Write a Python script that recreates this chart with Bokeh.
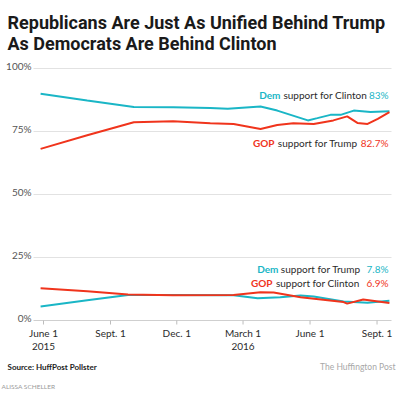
import pandas as pd
from bokeh.plotting import figure
from bokeh.models import Label, Range1d
from bokeh.embed import file_html
from bokeh.resources import INLINE

# ---- data ----
dem_clinton_dates = ["2015-05-28", "2015-07-31", "2015-10-03", "2015-11-26", "2016-01-16",
                     "2016-02-09", "2016-03-25", "2016-04-17", "2016-05-29", "2016-06-11",
                     "2016-06-29", "2016-07-13", "2016-07-31", "2016-08-23", "2016-09-18"]
dem_clinton = [90.0, 87.3, 84.7, 84.6, 84.3, 84.0, 84.9, 83.3, 79.4, 80.3, 81.6, 81.6, 83.3, 82.7, 83.0]

gop_trump_dates = ["2015-05-28", "2015-07-31", "2015-10-03", "2015-11-26", "2016-01-16",
                   "2016-02-17", "2016-03-25", "2016-04-17", "2016-05-09", "2016-06-06",
                   "2016-07-03", "2016-07-22", "2016-08-05", "2016-08-19", "2016-09-02", "2016-09-18"]
gop_trump = [68.1, 73.5, 78.7, 79.1, 78.3, 78.0, 76.0, 77.6, 78.3, 78.0, 79.4, 81.0, 78.4, 78.0, 80.0, 82.7]

dem_trump_dates = ["2015-05-28", "2015-07-31", "2015-09-25", "2015-11-26", "2016-02-17",
                   "2016-03-21", "2016-04-21", "2016-05-19", "2016-06-06", "2016-07-17",
                   "2016-08-19", "2016-09-18"]
dem_trump = [5.6, 8.0, 10.1, 10.1, 10.0, 8.8, 9.2, 9.9, 9.5, 7.5, 7.0, 7.8]

gop_clinton_dates = ["2015-05-28", "2015-07-31", "2015-09-25", "2015-11-26", "2016-02-17",
                     "2016-03-25", "2016-04-12", "2016-05-19", "2016-07-17", "2016-07-22",
                     "2016-08-13", "2016-09-18"]
gop_clinton = [12.8, 11.6, 10.3, 10.0, 10.1, 11.2, 11.1, 9.2, 7.3, 6.7, 8.3, 6.9]

tick_dates = ["2015-06-01", "2015-09-01", "2015-12-01", "2016-03-01", "2016-06-01", "2016-09-01"]
tick_labels = ["June 1\n2015", "Sept. 1", "Dec. 1", "March 1\n2016", "June 1", "Sept. 1"]
y_ticks = [0, 25, 50, 75, 100]
y_tick_labels = ["0%", "25%", "50%", "75%", "100%"]

TEAL = "#1ab6c6"
RED = "#f0341c"
DARK = "#2b2b2b"
W, H = 400, 394


def ms(d):
    return pd.Timestamp(d).value / 1e6


DAY = 86400000.0
x0 = ms("2015-06-01")
PX_DAY = 67.0 / 92.0          # horizontal scale
PX_UNIT = 2.52                # vertical scale (px per percentage point)
X0_PX, Y0_PX = 43.0, 320.0    # where June 1 2015 / 0% fall on the canvas

x_range = Range1d(x0 - X0_PX / PX_DAY * DAY, x0 + (W - X0_PX) / PX_DAY * DAY)
y_range = Range1d((Y0_PX - H) / PX_UNIT, Y0_PX / PX_UNIT)

p = figure(width=W, height=H, x_axis_type="datetime", output_backend="svg",
           toolbar_location=None, x_range=x_range, y_range=y_range,
           x_axis_location=None, y_axis_location=None,
           min_border=0, min_border_left=0, min_border_right=0,
           min_border_top=0, min_border_bottom=0)
p.outline_line_color = None
p.background_fill_color = "white"
p.border_fill_color = "white"
p.grid.visible = False

# plot-area extent (gridlines)
gx0 = x0 - 10 / PX_DAY * DAY
gx1 = x0 + 348 / PX_DAY * DAY
grid_y = y_ticks[1:]
p.segment(x0=[gx0] * len(grid_y), x1=[gx1] * len(grid_y), y0=grid_y, y1=grid_y,
          line_color="#e2e2e2", line_width=1)
# x axis line at 0%
p.segment(x0=[gx0], x1=[gx1], y0=[y_ticks[0]], y1=[y_ticks[0]], line_color="#cfcfcf", line_width=1)
# x ticks
tick_ms = [ms(d) for d in tick_dates]
p.segment(x0=tick_ms, x1=tick_ms, y0=[0] * len(tick_ms), y1=[-4 / PX_UNIT] * len(tick_ms),
          line_color="#bdbdbd", line_width=1)

for dates, vals, col in [(dem_clinton_dates, dem_clinton, TEAL), (gop_trump_dates, gop_trump, RED),
                         (dem_trump_dates, dem_trump, TEAL), (gop_clinton_dates, gop_clinton, RED)]:
    p.line(pd.to_datetime(dates), vals, line_color=col, line_width=2)

# x tick labels
for t, lab_text in zip(tick_ms, tick_labels):
    p.add_layout(Label(x=t, x_units="data", y=H - 326, y_units="screen", text=lab_text,
                       text_align="center", text_baseline="top", text_font="Lato",
                       text_font_size="10px", text_color=DARK, text_line_height=1.15))

# y tick labels
for v, lab_text in zip(y_ticks, y_tick_labels):
    p.add_layout(Label(x=31, x_units="screen", y=v, y_units="data", y_offset=3, text=lab_text,
                       text_align="right", text_baseline="middle", text_font="Lato",
                       text_font_size="10px", text_color="#555555"))


def lab(px, py, text, size="10px", color=DARK, style="normal", font="Lato", align="left",
        baseline="middle"):
    """px, py: canvas pixel position from the top-left corner."""
    p.add_layout(Label(x=px, y=H - py, x_units="screen", y_units="screen", text=text,
                       text_align=align, text_baseline=baseline, text_font=font,
                       text_font_size=size, text_color=color, text_font_style=style))


# title
TF = "'Liberation Sans Narrow', 'Roboto'"
lab(7, 21.7, "Republicans Are Just As Unified Behind Trump", size="18px", color="#1a1a1a",
    style="bold", font=TF, baseline="alphabetic")
lab(7, 43, "As Democrats Are Behind Clinton", size="18px", color="#1a1a1a", style="bold",
    font=TF, baseline="alphabetic")

# series labels (right-aligned pieces)
lab(280, 94, "Dem", color=TEAL, style="bold", align="right")
lab(366.5, 94, "support for Clinton", align="right")
lab(388, 94, "83%", color=TEAL, align="right")

lab(274, 142, "GOP", color=RED, style="bold", align="right")
lab(357, 142, "support for Trump", align="right")
lab(388, 142, "82.7%", color=RED, align="right")

lab(278, 268, "Dem", color=TEAL, style="bold", align="right")
lab(360, 268, "support for Trump", align="right")
lab(388, 268, "7.8%", color=TEAL, align="right")

lab(272, 282, "GOP", color=RED, style="bold", align="right")
lab(359, 282, "support for Clinton", align="right")
lab(388, 282, "6.9%", color=RED, align="right")

# footer
lab(7, 366, "Source: HuffPost Pollster", size="8px", color="#222222", style="bold")
lab(395, 366, "The Huffington Post", size="8.5px", color="#a8a8a8", align="right")
lab(1, 386, "ALISSA SCHELLER", size="6.5px", color="#9a9a9a")

open("out.html", "w").write(file_html(p, INLINE))
